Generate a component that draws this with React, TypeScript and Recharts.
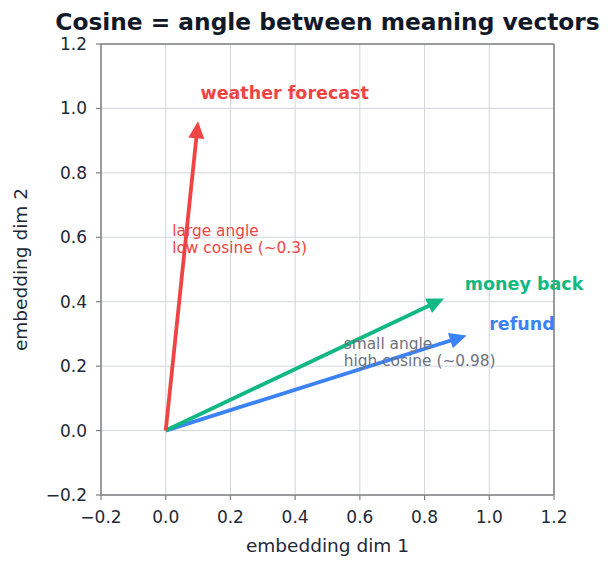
import React from 'react';
import {
  ComposedChart,
  XAxis,
  YAxis,
  CartesianGrid,
  ReferenceLine,
  Scatter,
  Customized,
} from 'recharts';

// Word vectors in a 2-D embedding space (arrow tips)
const vectorNames = ['refund', 'money back', 'weather forecast'];
const vectorX = [0.93, 0.86, 0.1];
const vectorY = [0.295, 0.41, 0.96];
const vectorColors = ['#3b82f6', '#10b981', '#ef4444'];

// Shared tick positions for both axes
const axisTicks = [-0.2, 0, 0.2, 0.4, 0.6, 0.8, 1.0, 1.2];

// Explanatory notes
const noteLines = [
  ['large angle', 'low cosine (~0.3)'],
  ['small angle', 'high cosine (~0.98)'],
];
const noteX = [0.02, 0.55];
const noteY = [0.55, 0.2];
const noteColors = ['#ef4444', '#6b7280'];

const FONT = '"DejaVu Sans", sans-serif';
const SPINE = '#808080';
const LABEL_SCALE = 1.075;
const LABEL_LIFT = 0.015;

const W = 615;
const H = 569;
const MARGIN = { top: 44, right: 61, bottom: 0, left: 0 };

const labelData = vectorNames.map((name, i) => ({
  x: vectorX[i] * LABEL_SCALE,
  y: vectorY[i] * LABEL_SCALE + LABEL_LIFT,
  name,
  color: vectorColors[i],
}));

const noteData = noteLines.map((lines, i) => ({
  x: noteX[i],
  y: noteY[i],
  lines,
  color: noteColors[i],
}));

const fmt = (v: number) => (v < 0 ? '\u2212' : '') + Math.abs(v).toFixed(1);

const makeArrow = (color: string) => (props: any) => {
  const x1 = Number(props.x1);
  const y1 = Number(props.y1);
  const x2 = Number(props.x2);
  const y2 = Number(props.y2);
  const dx = x2 - x1;
  const dy = y2 - y1;
  const len = Math.hypot(dx, dy) || 1;
  const ux = dx / len;
  const uy = dy / len;
  const headLen = 17;
  const halfW = 8;
  const bx = x2 - ux * headLen;
  const by = y2 - uy * headLen;
  const px = -uy;
  const py = ux;
  return (
    <g>
      <line
        x1={x1}
        y1={y1}
        x2={bx + ux * 2}
        y2={by + uy * 2}
        stroke={color}
        strokeWidth={3.8}
      />
      <polygon
        points={`${x2},${y2} ${bx + px * halfW},${by + py * halfW} ${bx - px * halfW},${by - py * halfW}`}
        fill={color}
      />
    </g>
  );
};

const VectorLabel = (props: any) => {
  const { cx, cy, payload } = props;
  return (
    <text
      x={cx}
      y={cy + 6}
      fill={payload.color}
      fontFamily={FONT}
      fontWeight="bold"
      fontSize={17.5}
      textAnchor="start"
    >
      {payload.name}
    </text>
  );
};

const NoteLabel = (props: any) => {
  const { cx, cy, payload } = props;
  const lines: string[] = payload.lines;
  return (
    <text fill={payload.color} fontFamily={FONT} fontSize={15.4} textAnchor="start">
      {lines.map((t, i) => (
        <tspan key={i} x={cx} y={cy - (lines.length - 1 - i) * 17.5}>
          {t}
        </tspan>
      ))}
    </text>
  );
};

const Titles = () => (
  <g fontFamily={FONT}>
    <text
      x={327.5}
      y={30}
      textAnchor="middle"
      fontSize={23.3}
      fontWeight="bold"
      fill="#111827"
    >
      Cosine = angle between meaning vectors
    </text>
    <text x={327.5} y={552} textAnchor="middle" fontSize={18.5} fill="#1f2937">
      embedding dim 1
    </text>
    <text
      x={27}
      y={269.5}
      textAnchor="middle"
      fontSize={18.5}
      fill="#1f2937"
      transform="rotate(-90 27 269.5)"
    >
      embedding dim 2
    </text>
  </g>
);

export default function App() {
  const tickStyle = { fontFamily: FONT, fontSize: 17, fill: '#1f2937' };
  return (
    <div style={{ position: 'absolute', left: 0, top: 0, background: '#fff' }}>
      <ComposedChart width={W} height={H} margin={MARGIN}>
        <CartesianGrid stroke="#d1d5db" strokeWidth={1} />
        <XAxis
          type="number"
          dataKey="x"
          domain={[-0.2, 1.2]}
          ticks={axisTicks}
          height={74}
          tickFormatter={fmt}
          tick={tickStyle}
          tickSize={5}
          tickMargin={11}
          stroke={SPINE}
          axisLine={{ stroke: SPINE, strokeWidth: 1.5 }}
          tickLine={{ stroke: SPINE, strokeWidth: 1.2 }}
        />
        <YAxis
          type="number"
          dataKey="y"
          domain={[-0.2, 1.2]}
          ticks={axisTicks}
          width={101}
          tickFormatter={fmt}
          tick={tickStyle}
          tickSize={5}
          tickMargin={9}
          stroke={SPINE}
          axisLine={{ stroke: SPINE, strokeWidth: 1.5 }}
          tickLine={{ stroke: SPINE, strokeWidth: 1.2 }}
        />
        <ReferenceLine x={1.2} stroke={SPINE} strokeWidth={1.5} />
        <ReferenceLine y={1.2} stroke={SPINE} strokeWidth={1.5} />
        {vectorNames.map((name, i) => (
          <ReferenceLine
            key={name}
            segment={[
              { x: 0, y: 0 },
              { x: vectorX[i], y: vectorY[i] },
            ]}
            shape={makeArrow(vectorColors[i])}
          />
        ))}
        <Scatter
          data={noteData}
          dataKey="y"
          shape={<NoteLabel />}
          isAnimationActive={false}
        />
        <Scatter
          data={labelData}
          dataKey="y"
          shape={<VectorLabel />}
          isAnimationActive={false}
        />
        <Customized component={<Titles />} />
      </ComposedChart>
    </div>
  );
}
